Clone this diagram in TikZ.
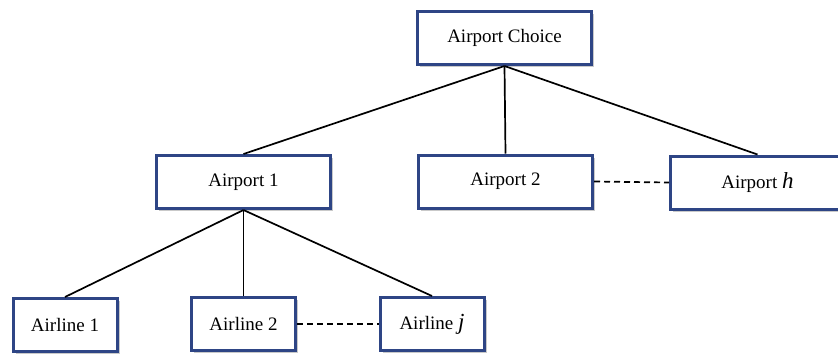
\documentclass[tikz,border=0pt]{standalone}
\usepackage{fontspec}
\setmainfont{Liberation Serif}
\usetikzlibrary{shadows}
\definecolor{boxblue}{HTML}{2E4585}
\newcommand{\bigit}[1]{{\fontsize{23}{22}\selectfont\itshape #1}}
\tikzset{
  box/.style={draw=boxblue, line width=3pt, fill=white, minimum height=53pt,
    inner sep=0pt, font=\fontsize{19}{22}\selectfont,
    drop shadow={shadow xshift=2.5pt, shadow yshift=-2.5pt, opacity=0.35, fill=black!60}},
  wbox/.style={box, minimum width=174pt},
  nbox/.style={box, minimum width=104pt},
  link/.style={line width=1.7pt, black},
  dlink/.style={line width=1.7pt, black, dash pattern=on 6pt off 4pt}
}
\begin{document}
\begin{tikzpicture}[x=1pt,y=1pt]
\clip (0,0) rectangle (838,-357);
\fill[white] (0,0) rectangle (838,-357);
\node[wbox] (choice) at (504.5,-38) {Airport Choice};
\node[wbox] (a1) at (243.5,-182) {Airport 1};
\node[wbox] (a2) at (505.5,-181.5) {Airport 2};
\node[wbox] (ah) at (757.5,-182.5) {Airport \bigit{h}};
\node[nbox] (l1) at (65,-325) {Airline 1};
\node[nbox] (l2) at (243.5,-324) {Airline 2};
\node[nbox] (lj) at (432,-324) {Airline \bigit{j}};
\draw[link] (choice.south) -- (a1.north);
\draw[link] (choice.south) -- (a2.north);
\draw[link] (choice.south) -- (ah.north);
\draw[link] (a1.south) -- (l1.north);
\draw[link] (a1.south) -- (l2.north);
\draw[link] (a1.south) -- (lj.north);
\draw[dlink] (a2.east) -- (ah.west);
\draw[dlink] (l2.east) -- (lj.west);
\end{tikzpicture}
\end{document}
